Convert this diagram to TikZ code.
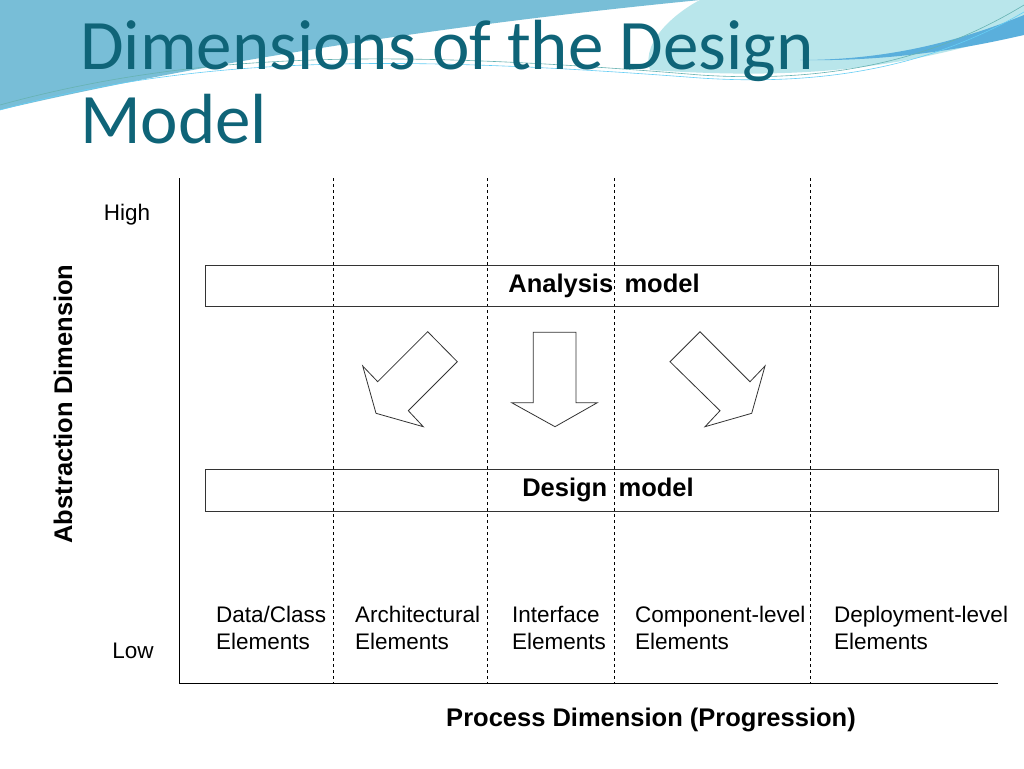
\documentclass[tikz,border=0pt]{standalone}
\usepackage{fontspec}
\setmainfont{Liberation Sans}
\newfontfamily\titlefont{Carlito}
\definecolor{ttl}{RGB}{15,100,120}
\definecolor{decoA}{RGB}{120,190,215}
\definecolor{decoB}{RGB}{185,230,235}
\definecolor{decoC}{RGB}{90,175,220}
\begin{document}
\begin{tikzpicture}[x=1pt,y=-1pt,
  lbl/.style={font=\fontsize{22.5}{27}\selectfont, inner sep=0pt},
  bold/.style={font=\fontsize{25.5}{30}\selectfont\bfseries, inner sep=0pt},
  band/.style={draw=black!80, line width=0.8pt},
  grid/.style={dashed, line width=0.7pt},
  fat/.style={draw=black!80, line width=0.8pt, fill=white}]
\useasboundingbox (0,0) rectangle (1024,768);
\fill[white] (0,0) rectangle (1024,768);
% decoration
\fill[decoA] (0,0) -- (700,0) .. controls (600,10) and (300,40) .. (0,110) -- cycle;
\fill[decoB] (700,0) -- (1024,0) -- (1024,30) .. controls (900,70) and (800,80) .. (650,70) .. controls (640,40) and (680,10) .. (700,0);
\fill[decoC] (1024,15) .. controls (950,45) and (880,60) .. (800,60) .. controls (900,62) and (980,45) .. (1024,35) -- cycle;
\draw[teal!60, line width=0.6pt] (0,105) .. controls (200,50) and (400,50) .. (700,75) .. controls (850,85) and (950,50) .. (1024,5);
\draw[cyan!60, line width=0.6pt] (0,110) .. controls (200,55) and (400,55) .. (700,78) .. controls (850,88) and (950,55) .. (1024,12);
\node[anchor=base west, inner sep=0pt, text=ttl, font=\titlefont\fontsize{71}{80}\selectfont] (t1) at (80,70) {Dimensions of the Design};
\node[anchor=base west, inner sep=0pt, text=ttl, font=\titlefont\fontsize{71}{80}\selectfont] (t2) at (80,143) {Model};
% axes and grid
\coordinate (o) at (179,683);
\coordinate (ytop) at (179,178);
\coordinate (xend) at (998,683);
\draw[line width=0.8pt] (ytop) -- (o) -- (xend);
\foreach \x in {333,487,614,810} \draw[grid] (\x,178) -- (\x,683);
% boxes
\draw[band] (205,265) rectangle (998,306);
\draw[band] (205,469) rectangle (998,511);
\node[bold] (am) at (604,286) {Analysis\, model};
\node[bold] (dm) at (608,490) {Design\, model};
% arrows
\draw[fat] (427.7,331.7) -- (457.3,361.7) -- (408.3,410.7) -- (423.3,426.7) -- (376,413.3) -- (362.7,366) -- (377.7,381.7) -- cycle;
\draw[fat] (533.3,332.3) -- (576,332.3) -- (576,402.7) -- (597.3,402.7) -- (555,426.7) -- (511.7,402.7) -- (533.3,402.7) -- cycle;
\draw[fat] (700,331.7) -- (750,381.7) -- (765,366) -- (751.7,413.3) -- (705,426.7) -- (720,410.7) -- (670,361.7) -- cycle;
% labels
\node[lbl] (hi) at (127,215) {High};
\node[lbl] (lo) at (133,651) {Low};
\node[bold, rotate=90] (ad) at (63,404) {Abstraction Dimension};
\node[bold] (pd) at (651,720) {Process Dimension (Progression)};
\node[lbl, anchor=north west, align=left] (e1) at (216,606) {Data/Class\\Elements};
\node[lbl, anchor=north west, align=left] (e2) at (355,606) {Architectural\\Elements};
\node[lbl, anchor=north west, align=left] (e3) at (512,606) {Interface\\Elements};
\node[lbl, anchor=north west, align=left] (e4) at (635,606) {Component-level\\Elements};
\node[lbl, anchor=north west, align=left] (e5) at (834,606) {Deployment-level\\Elements};
\end{tikzpicture}
\end{document}
